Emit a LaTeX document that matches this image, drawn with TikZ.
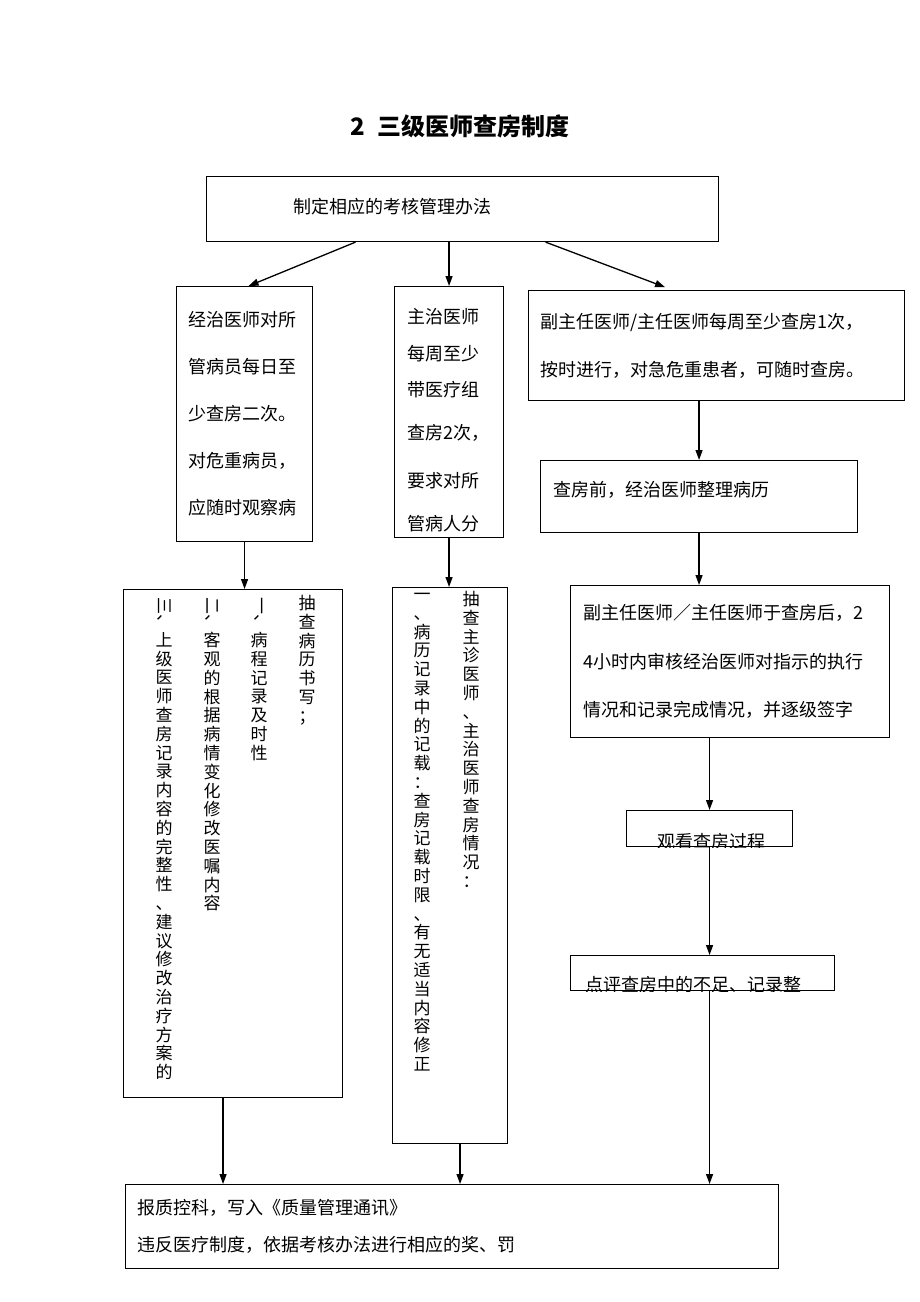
\documentclass[tikz,border=0pt]{standalone}
\usepackage{fontspec}
\usepackage{graphicx}
\newfontfamily\cjk{Noto Sans CJK SC}
\usetikzlibrary{arrows.meta,positioning}

\begin{document}
\begin{tikzpicture}[
                    x=1pt, y=-1pt,
                    >={Triangle[length=10pt,width=7pt]},
                    box/.style={draw, line width=1.1pt, anchor=north west, inner sep=0pt, align=left},
                    lines/.style={font=\cjk\fontsize{18}{#1}\selectfont},
                    vcol/.style={anchor=north, inner sep=0pt, align=center, font=\cjk\fontsize{17}{18.8}\selectfont},
                    link/.style={->, line width=1.3pt}
                ]
                \useasboundingbox (0,0) rectangle (920,1302);

                \node[font=\cjk\bfseries\fontsize{24}{26}\selectfont] (title) at (460,126) {2\hspace{12pt}三级医师查房制度};

                % top row
                \node[box, lines=20, minimum width=512, minimum height=65, text width=338] (rule) at (206,176) {制定相应的考核管理办法\rule[-6pt]{0pt}{0pt}};
                \node[box, lines=47, minimum width=136, minimum height=255, text width=112] (resident) at (176,286)
                    {经治医师对所\\管病员每日至\\少查房二次。\\对危重病员，\\应随时观察病};
                \node[box, lines=36.5, minimum width=109, minimum height=251, text width=83] (attending) at (394,286)
                    {\rule{0pt}{31pt}主治医师\\每周至少\\带医疗组\\[6pt]查房2次，\\[12pt]要求对所\\[6pt]管病人分};
                \node[box, lines=48, minimum width=376, minimum height=110, text width=352] (chief) at (528,290)
                    {副主任医师/主任医师每周至少查房1次，\\按时进行，对急危重患者，可随时查房。};

                % right branch
                \node[box, lines=20, minimum width=317, minimum height=72, text width=291] (prep) at (540,460) {查房前，经治医师整理病历\rule[-16pt]{0pt}{0pt}};
                \node[box, lines=48.5, minimum width=319, minimum height=152, text width=293] (review) at (570,585)
                    {副主任医师／主任医师于查房后，2\\4小时内审核经治医师对指示的执行\\情况和记录完成情况，并逐级签字};
                \node[box, minimum width=166, minimum height=36] (watch) at (626,810) {};
                \node[box, minimum width=264, minimum height=35] (comment) at (570,955) {};
                \begin{scope}
                    \clip (watch.north west) rectangle (watch.south east);
                    \node[lines=20, inner sep=0pt] (watch-text) at (711,842) {观看查房过程};
                \end{scope}
                \begin{scope}
                    \clip (comment.north west) rectangle (comment.south east);
                    \node[lines=20, inner sep=0pt, anchor=west] (comment-text) at (585,985) {点评查房中的不足、记录整};
                \end{scope}

                % left check box
                \node[box, minimum width=219, minimum height=508] (check1) at (123,589) {};
                \node[vcol] (check1-a) at (307,595) {抽\\查\\病\\历\\书\\写\\；};
                \node[vcol] (check1-b) at (259,597) {\rotatebox{-90}{一、}\\病\\程\\记\\录\\及\\时\\性};
                \node[vcol] (check1-c) at (212,597) {\rotatebox{-90}{二、}\\客\\观\\的\\根\\据\\病\\情\\变\\化\\修\\改\\医\\嘱\\内\\容};
                \node[vcol] (check1-d) at (164,597) {\rotatebox{-90}{三、}\\上\\级\\医\\师\\查\\房\\记\\录\\内\\容\\的\\完\\整\\性\\、\\建\\议\\修\\改\\治\\疗\\方\\案\\的};

                % middle check box
                \node[box, minimum width=115, minimum height=556] (check2) at (392,587) {};
                \node[vcol] (check2-a) at (471,591) {抽\\查\\主\\诊\\医\\师\\、\\主\\治\\医\\师\\查\\房\\情\\况\\：};
                \node[vcol] (check2-b) at (422,593) {一\\、\\病\\历\\记\\录\\中\\的\\记\\载\\：\\查\\房\\记\\载\\时\\限\\、\\有\\无\\适\\当\\内\\容\\修\\正};

                % bottom
                \node[box, lines=37, minimum width=653, minimum height=84, text width=629] (report) at (125,1184)
                    {报质控科，写入《质量管理通讯》\\违反医疗制度，依据考核办法进行相应的奖、罚};

                \draw[link] ([xshift=-107pt]rule.south) -- ([xshift=4pt]resident.north);
                \draw[link] (rule.south -| attending.north) -- (attending.north);
                \draw[link, shorten >=8pt] ([xshift=83pt]rule.south) -- ([xshift=-44pt]chief.north);
                \draw[link] (prep.north |- chief.south) -- (prep.north);
                \draw[link] (prep.south) -- (prep.south |- review.north);
                \draw[link] (watch.north |- review.south) -- (watch.north);
                \draw[link] (watch.south) -- (watch.south |- comment.north);
                \draw[link] (comment.south -| watch.south) -- (report.north -| watch.south);
                \draw[link] (resident.south) -- (resident.south |- check1.north);
                \draw[link] ([xshift=-10pt]check1.south) -- ([xshift=-10pt]check1.south |- report.north);
                \draw[link] (attending.south) -- (attending.south |- check2.north);
                \draw[link] ([xshift=10pt]check2.south) -- ([xshift=10pt]check2.south |- report.north);
            \end{tikzpicture}
\end{document}
